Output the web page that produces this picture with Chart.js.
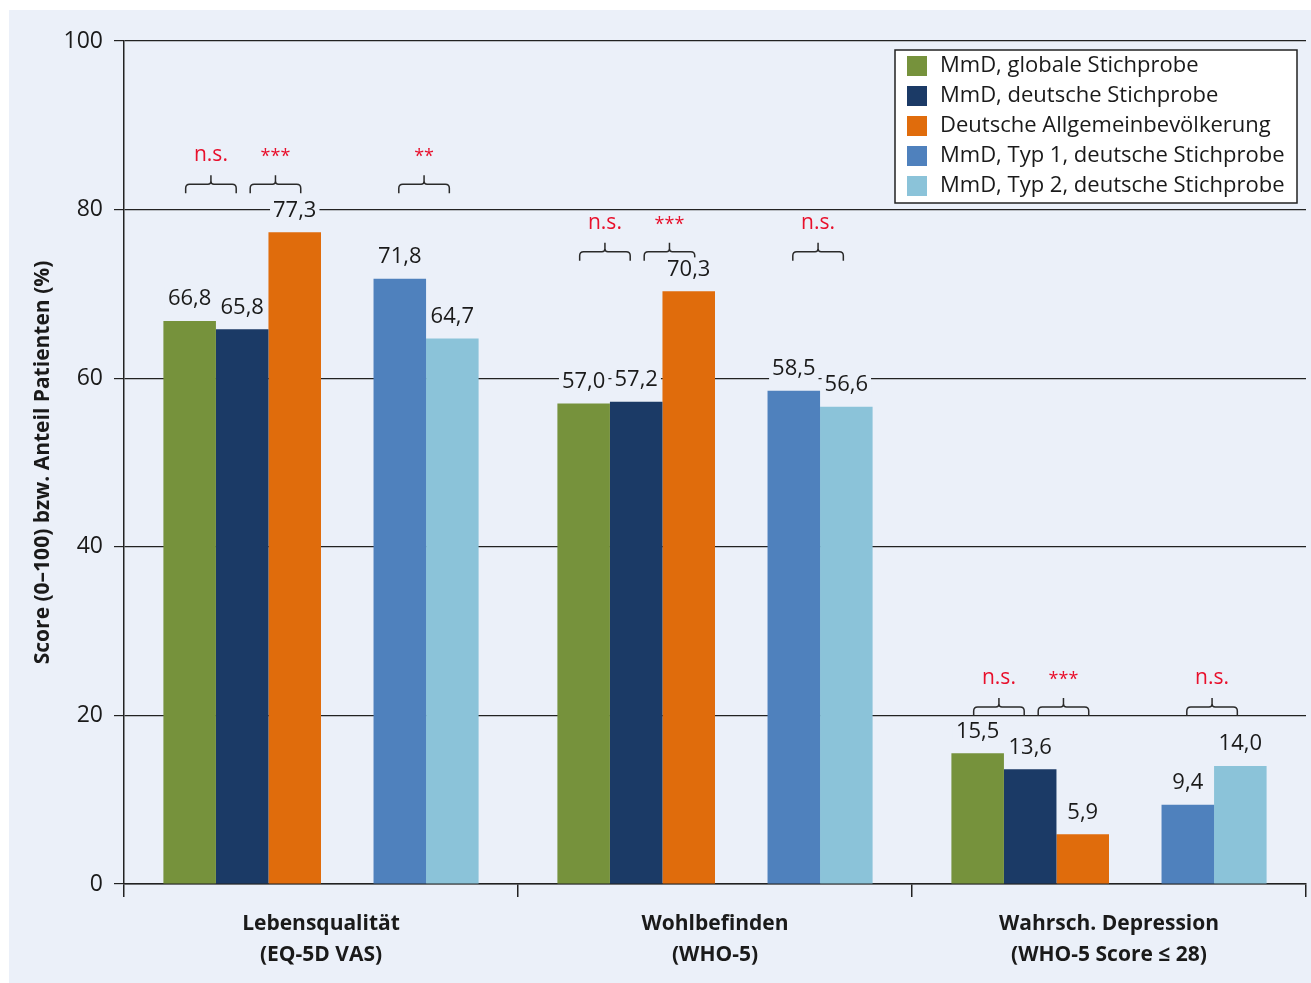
<!DOCTYPE html>
<html>
<head>
  <meta charset="utf-8" />
  <title>Lebensqualität, Wohlbefinden, Depression</title>
  <script src="https://cdn.jsdelivr.net/npm/chart.js"></script>
  <style>
    html, body { margin: 0; padding: 0; background: #ffffff; }
    .frame {
      position: absolute; left: 9px; top: 10px;
      width: 1302px; height: 973px;
      background: #ebf0f9;
    }
  </style>
</head>
<body>
  <div class="frame">
    <canvas id="chart" width="1302" height="973"></canvas>
  </div>

  <script>
    // --- data ---
    const categories = [
      ['Lebensqualität', '(EQ-5D VAS)'],
      ['Wohlbefinden', '(WHO-5)'],
      ['Wahrsch. Depression', '(WHO-5 Score ≤ 28)']
    ];
    const seriesLabels = [
      'MmD, globale Stichprobe',
      'MmD, deutsche Stichprobe',
      'Deutsche Allgemeinbevölkerung',
      'MmD, Typ 1, deutsche Stichprobe',
      'MmD, Typ 2, deutsche Stichprobe'
    ];
    const globalSample = [66.8, 57.0, 15.5];
    const germanSample = [65.8, 57.2, 13.6];
    const generalPopulation = [77.3, 70.3, 5.9];
    const type1German = [71.8, 58.5, 9.4];
    const type2German = [64.7, 56.6, 14.0];
    const yTicks = [0, 20, 40, 60, 80, 100];

    // significance brackets: [first dataset index, second dataset index]
    const sigPairs = [[0, 1], [1, 2], [4, 5]];
    const sigLabels = [
      ['n.s.', '***', '**'],
      ['n.s.', '***', 'n.s.'],
      ['n.s.', '***', 'n.s.']
    ];
    const sigLevel = [83, 75, 21]; // score level of the bracket line

    const colors = ['#76923c', '#1b3a66', '#e06c0c', null, '#4f81bd', '#8bc3d9'];
    const FONT = '"Open Sans", "Noto Sans", sans-serif';
    const BG = '#ebf0f9';

    const fmt = v => v.toFixed(1).replace('.', ',');

    // index 3 is an empty spacer slot between the two groups of bars
    const seriesData = [globalSample, germanSample, generalPopulation, null, type1German, type2German];
    const datasets = seriesData.map((d, i) => ({
      label: d ? seriesLabels[i < 3 ? i : i - 1] : '',
      data: d ? d : categories.map(() => null),
      backgroundColor: colors[i] || 'rgba(0,0,0,0)',
      borderWidth: 0,
      categoryPercentage: 0.8,
      barPercentage: 1.0
    }));

    // value labels above the bars, with a background patch that cuts the grid line
    const valueLabels = {
      id: 'valueLabels',
      afterDatasetsDraw(chart) {
        const ctx = chart.ctx;
        ctx.save();
        ctx.font = '22px ' + FONT;
        ctx.textAlign = 'center';
        ctx.textBaseline = 'middle';
        chart.data.datasets.forEach((ds, di) => {
          if (!seriesData[di]) return;
          const meta = chart.getDatasetMeta(di);
          meta.data.forEach((bar, i) => {
            const txt = fmt(ds.data[i]);
            const y = bar.y - 22;
            const w = ctx.measureText(txt).width;
            ctx.fillStyle = BG;
            ctx.fillRect(bar.x - w / 2 - 3, y - 12, w + 6, 24);
            ctx.fillStyle = '#1a1a1a';
            ctx.fillText(txt, bar.x, y);
          });
        });
        ctx.restore();
      }
    };

    // significance brackets with red labels
    const bracketShift = [-5, 7, -2];
    const brackets = {
      id: 'brackets',
      afterDatasetsDraw(chart) {
        const ctx = chart.ctx;
        const yScale = chart.scales.y;
        ctx.save();
        ctx.strokeStyle = '#2a2a2a';
        ctx.lineWidth = 1.5;
        categories.forEach((c, gi) => {
          const yLine = yScale.getPixelForValue(sigLevel[gi]);
          sigPairs.forEach((pair, pi) => {
            const a = chart.getDatasetMeta(pair[0]).data[gi];
            const b = chart.getDatasetMeta(pair[1]).data[gi];
            const mid = (a.x + b.x) / 2 + bracketShift[pi];
            const half = (b.x - a.x) / 2 - 1;
            const x0 = mid - half, x1 = mid + half, r = 4;
            ctx.beginPath();
            ctx.moveTo(x0, yLine + 9);
            ctx.lineTo(x0, yLine + r);
            ctx.quadraticCurveTo(x0, yLine, x0 + r, yLine);
            ctx.lineTo(mid - 3, yLine);
            ctx.quadraticCurveTo(mid, yLine, mid, yLine - 3);
            ctx.lineTo(mid, yLine - 9);
            ctx.moveTo(mid, yLine - 3);
            ctx.quadraticCurveTo(mid, yLine, mid + 3, yLine);
            ctx.lineTo(x1 - r, yLine);
            ctx.quadraticCurveTo(x1, yLine, x1, yLine + r);
            ctx.lineTo(x1, yLine + 9);
            ctx.stroke();

            const txt = sigLabels[gi][pi];
            ctx.fillStyle = '#e8102c';
            ctx.textAlign = 'center';
            ctx.textBaseline = 'middle';
            if (txt.startsWith('*')) {
              ctx.font = '18px ' + FONT;
              ctx.fillText(txt, mid, yLine - 27);
            } else {
              ctx.font = '21px ' + FONT;
              ctx.fillText(txt, mid, yLine - 29);
            }
          });
        });
        ctx.restore();
      }
    };

    // boxed legend at the top right of the plot
    const boxLegend = {
      id: 'boxLegend',
      afterDraw(chart) {
        const ctx = chart.ctx;
        const area = chart.chartArea;
        const items = chart.data.datasets.filter(ds => ds.label);
        const right = area.right - 9, top = area.top + 9;
        const width = 402, rowH = 30, height = items.length * rowH + 3;
        const left = right - width;
        ctx.save();
        ctx.fillStyle = '#ffffff';
        ctx.fillRect(left, top, width, height);
        ctx.strokeStyle = '#222';
        ctx.lineWidth = 1.5;
        ctx.strokeRect(left, top, width, height);
        ctx.font = '22px ' + FONT;
        ctx.textBaseline = 'middle';
        ctx.textAlign = 'left';
        items.forEach((ds, i) => {
          const cy = top + 16 + i * rowH;
          ctx.fillStyle = ds.backgroundColor;
          ctx.fillRect(left + 12, cy - 10, 20, 20);
          ctx.fillStyle = '#1a1a1a';
          ctx.fillText(ds.label, left + 45, cy);
        });
        ctx.restore();
      }
    };

    new Chart(document.getElementById('chart').getContext('2d'), {
      type: 'bar',
      data: { labels: categories, datasets: datasets },
      plugins: [brackets, valueLabels, boxLegend],
      options: {
        responsive: false,
        animation: false,
        layout: { padding: { left: 15, right: 5, top: 31, bottom: 0 } },
        plugins: {
          legend: { display: false },
          tooltip: { enabled: false }
        },
        scales: {
          x: {
            grid: {
              offset: true,
              drawOnChartArea: false,
              drawTicks: true,
              tickLength: 13,
              color: '#222',
              lineWidth: 1.5
            },
            border: { color: '#222', width: 1.5 },
            ticks: {
              padding: 12,
              color: '#1a1a1a',
              font: { family: FONT, size: 21, weight: 'bold', lineHeight: 1.45 }
            },
            afterFit(scale) { scale.height = 99; }
          },
          y: {
            min: 0,
            max: 100,
            afterBuildTicks(scale) { scale.ticks = yTicks.map(v => ({ value: v })); },
            grid: {
              color: '#222',
              lineWidth: 1.2,
              tickLength: 10
            },
            border: { color: '#222', width: 1.5 },
            ticks: {
              padding: 11,
              color: '#1a1a1a',
              font: { family: FONT, size: 23 }
            },
            title: {
              display: true,
              text: 'Score (0–100) bzw. Anteil Patienten (%)',
              color: '#1a1a1a',
              font: { family: FONT, size: 21, weight: 'bold' },
              padding: { top: 6, bottom: 0 }
            },
            afterFit(scale) { scale.width = 100; }
          }
        }
      }
    });
  </script>
</body>
</html>
